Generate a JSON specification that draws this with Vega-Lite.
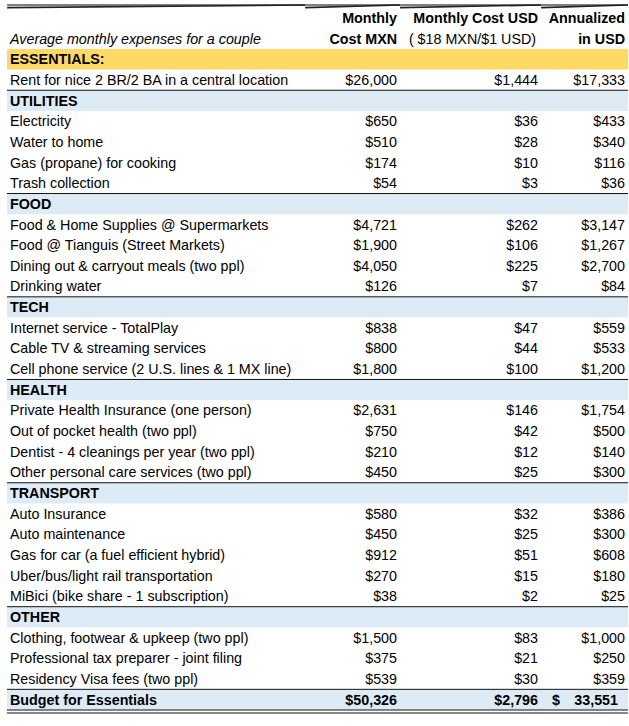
{
  "$schema": "https://vega.github.io/schema/vega-lite/v6.json",
  "padding": {"left": 6, "top": 4, "right": 0, "bottom": 12},
  "autosize": {"type": "pad"},
  "bounds": "flush",
  "spacing": 0,
  "background": "white",
  "config": {
    "view": {"stroke": null},
    "text": {"font": "Liberation Sans", "fontSize": 14.3, "baseline": "middle", "color": "#000"},
    "concat": {"spacing": 0}
  },
  "datasets": {
    "head": [
      {"col": "label", "r": "h2", "text": "Average monthly expenses for a couple", "role": "caption"},
      {"col": "mxn", "r": "h1", "text": "Monthly", "role": "title"},
      {"col": "mxn", "r": "h2", "text": "Cost MXN", "role": "title"},
      {"col": "usd", "r": "h1", "text": "Monthly Cost USD", "role": "title"},
      {"col": "usd", "r": "h2", "text": "( $18 MXN/$1 USD)", "role": "sub"},
      {"col": "ann", "r": "h1", "text": "Annualized", "role": "title"},
      {"col": "ann", "r": "h2", "text": "in USD", "role": "title"}
    ],
    "rows": [
      {"r": 1, "kind": "ess", "label": "ESSENTIALS:"},
      {"r": 2, "kind": "item", "label": "Rent for nice 2 BR/2 BA in a central location", "mxn": 26000, "usd": 1444, "ann": 17333},
      {"r": 3, "kind": "cat", "label": "UTILITIES"},
      {"r": 4, "kind": "item", "label": "Electricity", "mxn": 650, "usd": 36, "ann": 433},
      {"r": 5, "kind": "item", "label": "Water to home", "mxn": 510, "usd": 28, "ann": 340},
      {"r": 6, "kind": "item", "label": "Gas (propane) for cooking", "mxn": 174, "usd": 10, "ann": 116},
      {"r": 7, "kind": "item", "label": "Trash collection", "mxn": 54, "usd": 3, "ann": 36},
      {"r": 8, "kind": "cat", "label": "FOOD"},
      {"r": 9, "kind": "item", "label": "Food & Home Supplies @ Supermarkets", "mxn": 4721, "usd": 262, "ann": 3147},
      {"r": 10, "kind": "item", "label": "Food @ Tianguis (Street Markets)", "mxn": 1900, "usd": 106, "ann": 1267},
      {"r": 11, "kind": "item", "label": "Dining out & carryout meals (two ppl)", "mxn": 4050, "usd": 225, "ann": 2700},
      {"r": 12, "kind": "item", "label": "Drinking water", "mxn": 126, "usd": 7, "ann": 84},
      {"r": 13, "kind": "cat", "label": "TECH"},
      {"r": 14, "kind": "item", "label": "Internet service - TotalPlay", "mxn": 838, "usd": 47, "ann": 559},
      {"r": 15, "kind": "item", "label": "Cable TV & streaming services", "mxn": 800, "usd": 44, "ann": 533},
      {"r": 16, "kind": "item", "label": "Cell phone service (2 U.S. lines & 1 MX line)", "mxn": 1800, "usd": 100, "ann": 1200},
      {"r": 17, "kind": "cat", "label": "HEALTH"},
      {"r": 18, "kind": "item", "label": "Private Health Insurance (one person)", "mxn": 2631, "usd": 146, "ann": 1754},
      {"r": 19, "kind": "item", "label": "Out of pocket health (two ppl)", "mxn": 750, "usd": 42, "ann": 500},
      {"r": 20, "kind": "item", "label": "Dentist - 4 cleanings per year (two ppl)", "mxn": 210, "usd": 12, "ann": 140},
      {"r": 21, "kind": "item", "label": "Other personal care services (two ppl)", "mxn": 450, "usd": 25, "ann": 300},
      {"r": 22, "kind": "cat", "label": "TRANSPORT"},
      {"r": 23, "kind": "item", "label": "Auto Insurance", "mxn": 580, "usd": 32, "ann": 386},
      {"r": 24, "kind": "item", "label": "Auto maintenance", "mxn": 450, "usd": 25, "ann": 300},
      {"r": 25, "kind": "item", "label": "Gas for car (a fuel efficient hybrid)", "mxn": 912, "usd": 51, "ann": 608},
      {"r": 26, "kind": "item", "label": "Uber/bus/light rail transportation", "mxn": 270, "usd": 15, "ann": 180},
      {"r": 27, "kind": "item", "label": "MiBici (bike share - 1 subscription)", "mxn": 38, "usd": 2, "ann": 25},
      {"r": 28, "kind": "cat", "label": "OTHER"},
      {"r": 29, "kind": "item", "label": "Clothing, footwear & upkeep (two ppl)", "mxn": 1500, "usd": 83, "ann": 1000},
      {"r": 30, "kind": "item", "label": "Professional tax preparer - joint filing", "mxn": 375, "usd": 21, "ann": 250},
      {"r": 31, "kind": "item", "label": "Residency Visa fees (two ppl)", "mxn": 539, "usd": 30, "ann": 359},
      {"r": 32, "kind": "total", "label": "Budget for Essentials", "mxn": 50326, "usd": 2796, "ann": 33551}
    ]
  },
  "hconcat": [
    {
      "width": 298, "height": 705,
      "data": {"name": "rows"},
      "encoding": {"y": {"field": "r", "type": "ordinal", "scale": {"domain": ["h1","h2",1,2,3,4,5,6,7,8,9,10,11,12,13,14,15,16,17,18,19,20,21,22,23,24,25,26,27,28,29,30,31,32], "paddingInner": 0, "paddingOuter": 0.063, "align": 1}, "axis": null}},
      "layer": [
        {"transform": [{"filter": "datum.kind !== 'item'"}], "mark": {"type": "rect"}, "encoding": {"fill": {"field": "kind", "type": "nominal", "scale": {"domain": ["ess", "cat", "total"], "range": ["#FFD966", "#DDEBF7", "#DDEBF7"]}, "legend": null}}},
        {"data": {"name": "head"}, "transform": [{"filter": "datum.col === 'label'"}], "mark": {"type": "text", "align": "left", "fontStyle": "italic", "dx": 3, "dy": 1}, "encoding": {"x": {"value": 0}, "text": {"field": "text"}}},
        {"transform": [{"filter": "datum.kind === 'item'"}], "mark": {"type": "text", "align": "left", "dx": 3, "dy": 1}, "encoding": {"x": {"value": 0}, "text": {"field": "label"}}},
        {"transform": [{"filter": "datum.kind !== 'item'"}], "mark": {"type": "text", "align": "left", "fontWeight": "bold", "dx": 3, "dy": 1}, "encoding": {"x": {"value": 0}, "text": {"field": "label"}}},
        {"transform": [{"filter": "datum.kind === 'cat' || datum.kind === 'total'"}], "mark": {"type": "rule", "color": "#111", "strokeWidth": 1}, "encoding": {"y": {"field": "r", "type": "ordinal", "bandPosition": 0}}},
        {"transform": [{"filter": "datum.kind === 'total'"}], "mark": {"type": "rule", "color": "#111", "strokeWidth": 1}, "encoding": {"y": {"field": "r", "type": "ordinal", "bandPosition": 1}}},
        {"transform": [{"filter": "datum.kind === 'total'"}], "mark": {"type": "rule", "color": "#111", "strokeWidth": 1, "yOffset": 3}, "encoding": {"y": {"field": "r", "type": "ordinal", "bandPosition": 1}}},
        {"data": {"values": [{}]}, "mark": {"type": "rule", "color": "#000", "strokeWidth": 1}, "encoding": {"y": {"value": 0}}},
        {"data": {"values": [{}]}, "mark": {"type": "rule", "color": "#222", "strokeWidth": 1.6}, "encoding": {"x": {"value": "width"}}},
        {"data": {"values": [{}]}, "mark": {"type": "rule", "color": "#c8c8c8", "strokeWidth": 1}, "encoding": {"x": {"value": 0}}}
      ]
    },
    {
      "width": 95, "height": 705,
      "data": {"name": "rows"},
      "encoding": {"y": {"field": "r", "type": "ordinal", "scale": {"domain": ["h1","h2",1,2,3,4,5,6,7,8,9,10,11,12,13,14,15,16,17,18,19,20,21,22,23,24,25,26,27,28,29,30,31,32], "paddingInner": 0, "paddingOuter": 0.063, "align": 1}, "axis": null}},
      "layer": [
        {"transform": [{"filter": "datum.kind !== 'item'"}], "mark": {"type": "rect"}, "encoding": {"fill": {"field": "kind", "type": "nominal", "scale": {"domain": ["ess", "cat", "total"], "range": ["#FFD966", "#DDEBF7", "#DDEBF7"]}, "legend": null}}},
        {"data": {"name": "head"}, "transform": [{"filter": "datum.col === 'mxn'"}], "mark": {"type": "text", "align": "right", "fontWeight": "bold", "dx": -3, "dy": 1}, "encoding": {"x": {"value": "width"}, "text": {"field": "text"}}},
        {"transform": [{"filter": "datum.kind === 'item'"}], "mark": {"type": "text", "align": "right", "dx": -3, "dy": 1}, "encoding": {"x": {"value": "width"}, "text": {"field": "mxn", "type": "quantitative", "format": "$,.0f"}}},
        {"transform": [{"filter": "datum.kind === 'total'"}], "mark": {"type": "text", "align": "right", "fontWeight": "bold", "dx": -3, "dy": 1}, "encoding": {"x": {"value": "width"}, "text": {"field": "mxn", "type": "quantitative", "format": "$,.0f"}}},
        {"transform": [{"filter": "datum.kind === 'cat' || datum.kind === 'total'"}], "mark": {"type": "rule", "color": "#111", "strokeWidth": 1}, "encoding": {"y": {"field": "r", "type": "ordinal", "bandPosition": 0}}},
        {"transform": [{"filter": "datum.kind === 'total'"}], "mark": {"type": "rule", "color": "#111", "strokeWidth": 1}, "encoding": {"y": {"field": "r", "type": "ordinal", "bandPosition": 1}}},
        {"transform": [{"filter": "datum.kind === 'total'"}], "mark": {"type": "rule", "color": "#111", "strokeWidth": 1, "yOffset": 3}, "encoding": {"y": {"field": "r", "type": "ordinal", "bandPosition": 1}}},
        {"data": {"values": [{}]}, "mark": {"type": "rule", "color": "#000", "strokeWidth": 1}, "encoding": {"y": {"value": 0}}},
        {"data": {"values": [{}]}, "mark": {"type": "rule", "color": "#222", "strokeWidth": 1.6}, "encoding": {"x": {"value": "width"}}}
      ]
    },
    {
      "width": 141, "height": 705,
      "data": {"name": "rows"},
      "encoding": {"y": {"field": "r", "type": "ordinal", "scale": {"domain": ["h1","h2",1,2,3,4,5,6,7,8,9,10,11,12,13,14,15,16,17,18,19,20,21,22,23,24,25,26,27,28,29,30,31,32], "paddingInner": 0, "paddingOuter": 0.063, "align": 1}, "axis": null}},
      "layer": [
        {"transform": [{"filter": "datum.kind !== 'item'"}], "mark": {"type": "rect"}, "encoding": {"fill": {"field": "kind", "type": "nominal", "scale": {"domain": ["ess", "cat", "total"], "range": ["#FFD966", "#DDEBF7", "#DDEBF7"]}, "legend": null}}},
        {"data": {"name": "head"}, "transform": [{"filter": "datum.col === 'usd' && datum.role === 'title'"}], "mark": {"type": "text", "align": "right", "fontWeight": "bold", "dx": -3, "dy": 1}, "encoding": {"x": {"value": "width"}, "text": {"field": "text"}}},
        {"data": {"name": "head"}, "transform": [{"filter": "datum.col === 'usd' && datum.role === 'sub'"}], "mark": {"type": "text", "align": "right", "dx": -5, "dy": 1}, "encoding": {"x": {"value": "width"}, "text": {"field": "text"}}},
        {"transform": [{"filter": "datum.kind === 'item'"}], "mark": {"type": "text", "align": "right", "dx": -3, "dy": 1}, "encoding": {"x": {"value": "width"}, "text": {"field": "usd", "type": "quantitative", "format": "$,.0f"}}},
        {"transform": [{"filter": "datum.kind === 'total'"}], "mark": {"type": "text", "align": "right", "fontWeight": "bold", "dx": -3, "dy": 1}, "encoding": {"x": {"value": "width"}, "text": {"field": "usd", "type": "quantitative", "format": "$,.0f"}}},
        {"transform": [{"filter": "datum.kind === 'cat' || datum.kind === 'total'"}], "mark": {"type": "rule", "color": "#111", "strokeWidth": 1}, "encoding": {"y": {"field": "r", "type": "ordinal", "bandPosition": 0}}},
        {"transform": [{"filter": "datum.kind === 'total'"}], "mark": {"type": "rule", "color": "#111", "strokeWidth": 1}, "encoding": {"y": {"field": "r", "type": "ordinal", "bandPosition": 1}}},
        {"transform": [{"filter": "datum.kind === 'total'"}], "mark": {"type": "rule", "color": "#111", "strokeWidth": 1, "yOffset": 3}, "encoding": {"y": {"field": "r", "type": "ordinal", "bandPosition": 1}}},
        {"data": {"values": [{}]}, "mark": {"type": "rule", "color": "#000", "strokeWidth": 1}, "encoding": {"y": {"value": 0}}},
        {"data": {"values": [{}]}, "mark": {"type": "rule", "color": "#222", "strokeWidth": 1.6}, "encoding": {"x": {"value": "width"}}}
      ]
    },
    {
      "width": 87, "height": 705,
      "data": {"name": "rows"},
      "encoding": {"y": {"field": "r", "type": "ordinal", "scale": {"domain": ["h1","h2",1,2,3,4,5,6,7,8,9,10,11,12,13,14,15,16,17,18,19,20,21,22,23,24,25,26,27,28,29,30,31,32], "paddingInner": 0, "paddingOuter": 0.063, "align": 1}, "axis": null}},
      "layer": [
        {"transform": [{"filter": "datum.kind !== 'item'"}], "mark": {"type": "rect"}, "encoding": {"fill": {"field": "kind", "type": "nominal", "scale": {"domain": ["ess", "cat", "total"], "range": ["#FFD966", "#DDEBF7", "#DDEBF7"]}, "legend": null}}},
        {"data": {"name": "head"}, "transform": [{"filter": "datum.col === 'ann'"}], "mark": {"type": "text", "align": "right", "fontWeight": "bold", "dx": -3, "dy": 1}, "encoding": {"x": {"value": "width"}, "text": {"field": "text"}}},
        {"transform": [{"filter": "datum.kind === 'item'"}], "mark": {"type": "text", "align": "right", "dx": -3, "dy": 1}, "encoding": {"x": {"value": "width"}, "text": {"field": "ann", "type": "quantitative", "format": "$,.0f"}}},
        {"transform": [{"filter": "datum.kind === 'total'"}], "mark": {"type": "text", "align": "right", "fontWeight": "bold", "dx": -10, "dy": 1}, "encoding": {"x": {"value": "width"}, "text": {"field": "ann", "type": "quantitative", "format": ",.0f"}}},
        {"transform": [{"filter": "datum.kind === 'total'"}], "mark": {"type": "text", "align": "left", "fontWeight": "bold", "dx": 11, "dy": 1}, "encoding": {"x": {"value": 0}, "text": {"value": "$"}}},
        {"transform": [{"filter": "datum.kind === 'cat' || datum.kind === 'total'"}], "mark": {"type": "rule", "color": "#111", "strokeWidth": 1}, "encoding": {"y": {"field": "r", "type": "ordinal", "bandPosition": 0}}},
        {"transform": [{"filter": "datum.kind === 'total'"}], "mark": {"type": "rule", "color": "#111", "strokeWidth": 1}, "encoding": {"y": {"field": "r", "type": "ordinal", "bandPosition": 1}}},
        {"transform": [{"filter": "datum.kind === 'total'"}], "mark": {"type": "rule", "color": "#111", "strokeWidth": 1, "yOffset": 3}, "encoding": {"y": {"field": "r", "type": "ordinal", "bandPosition": 1}}},
        {"data": {"values": [{}]}, "mark": {"type": "rule", "color": "#000", "strokeWidth": 1}, "encoding": {"y": {"value": 0}}},
        {"data": {"values": [{}]}, "mark": {"type": "rule", "color": "#222", "strokeWidth": 1.6}, "encoding": {"x": {"value": "width"}}}
      ]
    }
  ]
}
